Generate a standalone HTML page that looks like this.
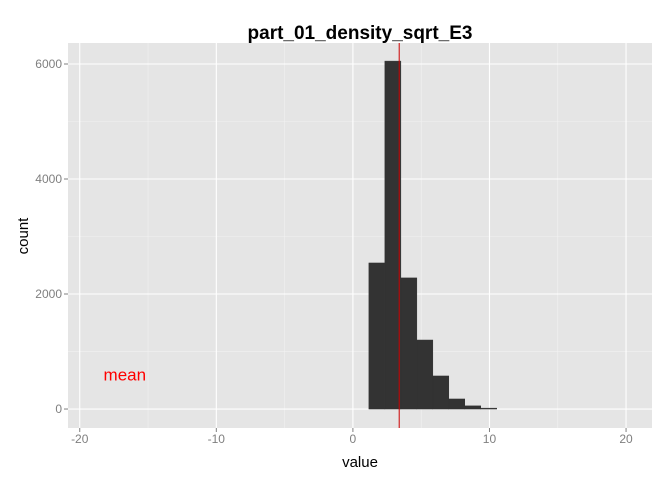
<!DOCTYPE html>
<html><head><meta charset="utf-8"><style>
body{margin:0;background:#fff}
svg{font-family:"Liberation Sans",Arial,sans-serif}
</style></head><body>
<svg id="c" width="672" height="480"></svg>
<script>
const binStarts=[1.17,2.34,3.51,4.68,5.85,7.02,8.19,9.36];
const binWidth=1.17;
const counts=[2540,6050,2280,1200,575,175,55,15];
const meanValue=3.39;
const xTicks=[-20,-10,0,10,20];
const yTicks=[0,2000,4000,6000];
const xMinor=[-15,-5,5,15];
const yMinor=[1000,3000,5000];
const NS="http://www.w3.org/2000/svg";
const svg=document.getElementById('c');
const L=68,R=652,T=43,B=428;
const xDom=[-20.86,21.9],yDom=[-330,6365];
const X=v=>L+(v-xDom[0])/(xDom[1]-xDom[0])*(R-L);
const Y=v=>B-(v-yDom[0])/(yDom[1]-yDom[0])*(B-T);
function el(t,a,txt){const e=document.createElementNS(NS,t);for(const k in a)e.setAttribute(k,a[k]);if(txt!==undefined)e.textContent=txt;svg.appendChild(e);return e;}
let e;
e=el('rect',{x:L,y:T,width:R-L,height:B-T,fill:'#e5e5e5'});


xMinor.forEach(v=>{e=el('line',{x1:X(v),x2:X(v),y1:T,y2:B,stroke:'#f2f2f2','stroke-width':0.6});

});
yMinor.forEach(v=>{e=el('line',{x1:L,x2:R,y1:Y(v),y2:Y(v),stroke:'#f2f2f2','stroke-width':0.6});

});
xTicks.forEach(v=>{e=el('line',{x1:X(v),x2:X(v),y1:T,y2:B,stroke:'#fff','stroke-width':1.1});


e=el('line',{x1:X(v),x2:X(v),y1:B,y2:B+4,stroke:'#7f7f7f'});


e=el('text',{x:X(v),y:B+15,'text-anchor':'middle','font-size':12,fill:'#7f7f7f'},String(v));

});
yTicks.forEach(v=>{e=el('line',{x1:L,x2:R,y1:Y(v),y2:Y(v),stroke:'#fff','stroke-width':1.1});


e=el('line',{x1:L-4,x2:L,y1:Y(v),y2:Y(v),stroke:'#7f7f7f'});


e=el('text',{x:L-6,y:Y(v)+4,'text-anchor':'end','font-size':12,fill:'#7f7f7f'},String(v));

});
counts.forEach((c,i)=>{const x0=X(binStarts[i]),x1=X(binStarts[i]+binWidth);
e=el('rect',{x:x0,y:Y(c),width:x1-x0,height:Y(0)-Y(c),fill:'#333333',stroke:'#333333','stroke-width':0.5});

});
e=el('line',{x1:X(meanValue),x2:X(meanValue),y1:T,y2:B,stroke:'#cc0000','stroke-width':1});


e=el('text',{x:X(-16.7),y:Y(600)+6,'text-anchor':'middle','font-size':17,fill:'#ff0000'},'mean');


e=el('text',{x:360,y:39,'text-anchor':'middle','font-size':19,'font-weight':'bold',fill:'#000'},'part_01_density_sqrt_E3');


e=el('text',{x:360,y:467,'text-anchor':'middle','font-size':15,fill:'#000'},'value');


e=el('text',{x:0,y:0,'text-anchor':'middle','font-size':15,fill:'#000',transform:'translate(28,236) rotate(-90)'},'count');


</script>
</body></html>
